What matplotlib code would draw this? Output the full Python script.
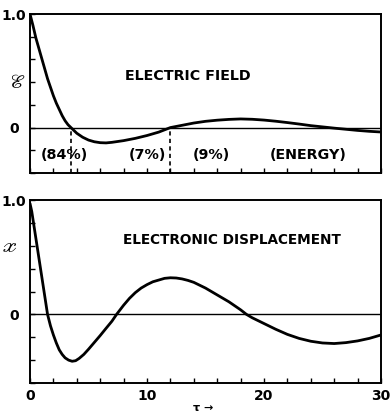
import matplotlib
matplotlib.use('Agg')
from matplotlib import pyplot as plt

# electric field curve
tau_field = [0, 0.25, 0.5, 0.75, 1.0, 1.25, 1.5, 1.75, 2.0, 2.25, 2.5, 2.75, 3.0, 3.25, 3.5,
             4.0, 4.5, 5.0, 5.5, 6.0, 6.5, 7.0, 8.0, 9.0, 10.0, 11.0, 12.0, 13.0, 14.0, 15.0,
             16.0, 17.0, 18.0, 19.0, 20.0, 21.0, 22.0, 23.0, 24.0, 25.0, 26.0, 27.0, 28.0,
             29.0, 30.0]
field = [1.0, 0.9, 0.79, 0.70, 0.61, 0.52, 0.43, 0.355, 0.28, 0.215, 0.16, 0.105, 0.06, 0.025,
         0.0, -0.05, -0.085, -0.11, -0.125, -0.133, -0.135, -0.13, -0.115, -0.095, -0.07,
         -0.04, 0.0, 0.02, 0.04, 0.055, 0.065, 0.072, 0.076, 0.073, 0.066, 0.056, 0.044,
         0.031, 0.017, 0.006, -0.005, -0.015, -0.025, -0.033, -0.039]

# electronic displacement curve
tau_disp = [0, 0.15, 0.3, 0.45, 0.6, 0.75, 0.9, 1.05, 1.2, 1.35, 1.5, 1.75, 2.0, 2.25, 2.5,
            2.75, 3.0, 3.3, 3.6, 3.9, 4.2, 4.6, 5.0, 5.5, 6.0, 6.5, 7.0, 7.4, 8.0, 8.5, 9.0,
            9.5, 10.0, 10.5, 11.0, 11.5, 12.0, 12.5, 13.0, 13.5, 14.0, 15.0, 16.0, 17.0,
            18.0, 18.5, 19.0, 20.0, 21.0, 22.0, 23.0, 24.0, 25.0, 26.0, 27.0, 28.0, 29.0,
            30.0]
disp = [0.97, 0.9, 0.8, 0.7, 0.6, 0.5, 0.4, 0.3, 0.2, 0.1, 0.0, -0.1, -0.18, -0.25, -0.31,
        -0.35, -0.38, -0.40, -0.41, -0.405, -0.385, -0.35, -0.305, -0.245, -0.185, -0.122,
        -0.06, 0.0, 0.08, 0.14, 0.19, 0.23, 0.26, 0.285, 0.30, 0.315, 0.32, 0.318, 0.31,
        0.297, 0.28, 0.23, 0.17, 0.11, 0.04, 0.0, -0.03, -0.08, -0.13, -0.175, -0.21,
        -0.235, -0.25, -0.255, -0.247, -0.232, -0.21, -0.18]

# energy split of the field
splits = [3.5, 12.0]
energy_labels = ['(84%)', '(7%)', '(9%)', '(ENERGY)']
energy_x = [2.9, 10.0, 15.5, 23.8]

txt = dict(fontsize=10.3, fontweight='bold', family='DejaVu Sans')

fig = plt.figure(figsize=(3.91, 4.15), dpi=100)
ax1 = fig.add_axes([30 / 391, 1 - 173 / 415, 351 / 391, 159 / 415])
ax2 = fig.add_axes([30 / 391, 1 - 383 / 415, 351 / 391, 183 / 415])

for ax, ylo in ((ax1, -0.4), (ax2, -0.6)):
    ax.set_xlim(0, 30)
    ax.set_ylim(ylo, 1.0)
    for s in ax.spines.values():
        s.set_linewidth(1.4)
    yt = [round(ylo + 0.2 * i, 1) for i in range(int(round((1.0 - ylo) / 0.2)) + 1)]
    ax.set_yticks(yt)
    ax.set_yticklabels(['1.0' if v == 1.0 else ('0' if v == 0 else '') for v in yt])
    ax.set_xticks(range(0, 31, 2))
    ax.tick_params(direction='in', length=3.5, width=1, pad=11.5, labelsize=10)
    ax.tick_params(axis='x', pad=4)
    for lab in ax.get_yticklabels():
        lab.set_horizontalalignment('center')
        lab.set_fontweight('bold')
    ax.axhline(0, color='black', lw=1)

ax1.set_xticklabels([])
ax2.set_xticklabels([str(v) if v % 10 == 0 else '' for v in range(0, 31, 2)])
for lab in ax2.get_xticklabels():
    lab.set_fontweight('bold')

ax1.plot(tau_field, field, color='black', lw=2.0, solid_capstyle='round', solid_joinstyle='round')
ax1.vlines(splits, -0.4, 0, colors='black', linestyles=(0, (2.5, 2)), lw=1.2)
for x, lab in zip(energy_x, energy_labels):
    ax1.text(x, -0.24, lab, ha='center', va='center', **txt)
ax1.text(13.5, 0.45, 'ELECTRIC FIELD', ha='center', va='center', **txt)
ax1.text(-0.037, 0.4, r'$\mathscr{E}$', transform=ax1.get_yaxis_transform(),
         ha='center', va='center', fontsize=14, math_fontfamily='stix')

ax2.plot(tau_disp, disp, color='black', lw=2.0, solid_capstyle='round', solid_joinstyle='round')
ax2.text(17.3, 0.65, 'ELECTRONIC DISPLACEMENT', ha='center', va='center',
         **dict(txt, fontsize=9.8))
ax2.text(-0.06, 0.6, r'$\mathscr{x}$', transform=ax2.get_yaxis_transform(),
         ha='center', va='center', fontsize=15, math_fontfamily='stix')
ax2.text(0.493, -0.137, 'τ →', transform=ax2.transAxes, ha='center', va='center',
         fontsize=8, fontweight='bold')

fig.savefig('out.png', dpi=100)
